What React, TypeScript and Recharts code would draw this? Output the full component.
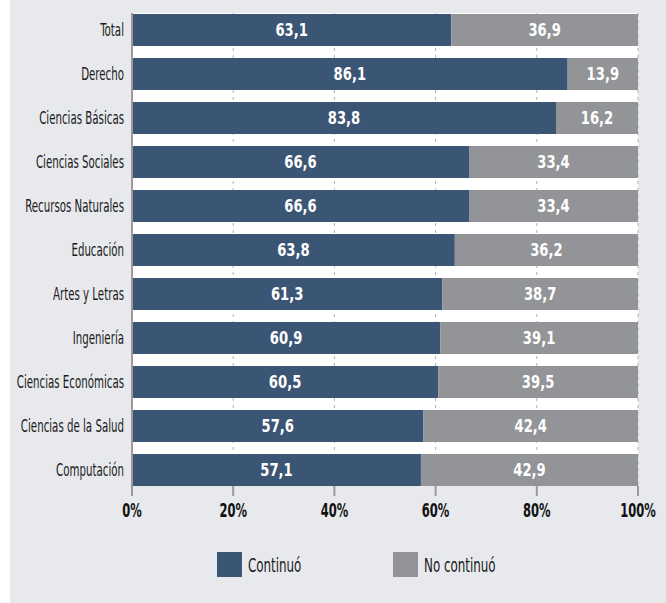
import React from 'react';
import { BarChart, Bar, XAxis, YAxis, CartesianGrid, LabelList, Legend } from 'recharts';

const categories = [
  'Total',
  'Derecho',
  'Ciencias Básicas',
  'Ciencias Sociales',
  'Recursos Naturales',
  'Educación',
  'Artes y Letras',
  'Ingeniería',
  'Ciencias Económicas',
  'Ciencias de la Salud',
  'Computación',
];
const continuo = [63.1, 86.1, 83.8, 66.6, 66.6, 63.8, 61.3, 60.9, 60.5, 57.6, 57.1];
const noContinuo = [36.9, 13.9, 16.2, 33.4, 33.4, 36.2, 38.7, 39.1, 39.5, 42.4, 42.9];
const xTicks = [0, 20, 40, 60, 80, 100];
const seriesNames = ['Continuó', 'No continuó'];

const data = categories.map((c, i) => ({ name: c, a: continuo[i], b: noContinuo[i] }));

const FONT = '"DejaVu Sans Condensed", "DejaVu Sans", sans-serif';
const BLUE = '#3b5575';
const GRAY = '#939498';
const BG = '#e7e9ec';

const fmt = (v: any) => Number(v).toFixed(1).replace('.', ',');

const YTick = (props: any) => {
  const { x, y, payload } = props;
  return (
    <text
      transform={`translate(${x},${y}) scale(0.67,1)`}
      textAnchor="end"
      dy="0.36em"
      fill="#1a1a1a"
      fontFamily={FONT}
      fontSize={17}
    >
      {payload.value}
    </text>
  );
};

const XTick = (props: any) => {
  const { x, y, payload } = props;
  return (
    <text
      transform={`translate(${x},${y}) scale(0.64,1)`}
      textAnchor="middle"
      dy="0.74em"
      fill="#111"
      fontFamily={FONT}
      fontSize={20}
      fontWeight="bold"
    >
      {`${payload.value}%`}
    </text>
  );
};

const BarLabel = (props: any) => {
  const { x, y, width, height, value } = props;
  const cx = Number(x) + Number(width) / 2;
  const cy = Number(y) + Number(height) / 2;
  return (
    <text
      transform={`translate(${cx},${cy}) scale(0.86,1)`}
      textAnchor="middle"
      dy="0.36em"
      fill="#ffffff"
      fontFamily={FONT}
      fontSize={17}
      fontWeight="bold"
    >
      {fmt(value)}
    </text>
  );
};

const LegendContent = (props: any) => {
  const payload = props.payload || [];
  return (
    <div style={{ display: 'flex', paddingLeft: 207, fontFamily: FONT, fontSize: 20, color: '#1a1a1a' }}>
      {payload.map((p: any, i: number) => (
        <div key={i} style={{ display: 'flex', alignItems: 'center', width: i === 0 ? 176 : 'auto' }}>
          <div style={{ width: 25, height: 25, background: p.color, marginRight: 6 }} />
          <span style={{ display: 'inline-block', transform: 'scale(0.66,1)', transformOrigin: 'left center', whiteSpace: 'nowrap' }}>
            {p.value}
          </span>
        </div>
      ))}
    </div>
  );
};

export default function App() {
  return (
    <div style={{ position: 'absolute', left: 10, top: 0, width: 656, height: 603, background: BG }}>
      <BarChart
        width={656}
        height={603}
        data={data}
        layout="vertical"
        margin={{ top: 13, right: 28, left: 0, bottom: 87 }}
        barSize={32}
      >
        <CartesianGrid
          horizontal={false}
          fill="#ffffff"
          fillOpacity={1}
          stroke="#a7b3c4"
          strokeDasharray="3 4"
        />
        <XAxis
          type="number"
          domain={[0, 100]}
          ticks={xTicks}
          axisLine={false}
          tickLine={{ stroke: '#9a9a9a', strokeWidth: 2 }}
          tickSize={10}
          tickMargin={6}
          height={30}
          tick={<XTick />}
          interval={0}
        />
        <YAxis
          type="category"
          dataKey="name"
          width={122}
          padding={{ top: -5, bottom: -6 }}
          axisLine={{ stroke: '#9a9a9a', strokeWidth: 2 }}
          tickLine={false}
          tickSize={0}
          tickMargin={8}
          interval={0}
          tick={<YTick />}
        />
        <Legend
          layout="horizontal"
          verticalAlign="middle"
          align="center"
          content={<LegendContent />}
          wrapperStyle={{ position: 'absolute', top: 552, left: 0, width: 656 }}
        />
        <Bar dataKey="a" name={seriesNames[0]} stackId="s" fill={BLUE} isAnimationActive={false}>
          <LabelList dataKey="a" content={<BarLabel />} />
        </Bar>
        <Bar dataKey="b" name={seriesNames[1]} stackId="s" fill={GRAY} isAnimationActive={false}>
          <LabelList dataKey="b" content={<BarLabel />} />
        </Bar>
      </BarChart>
    </div>
  );
}
